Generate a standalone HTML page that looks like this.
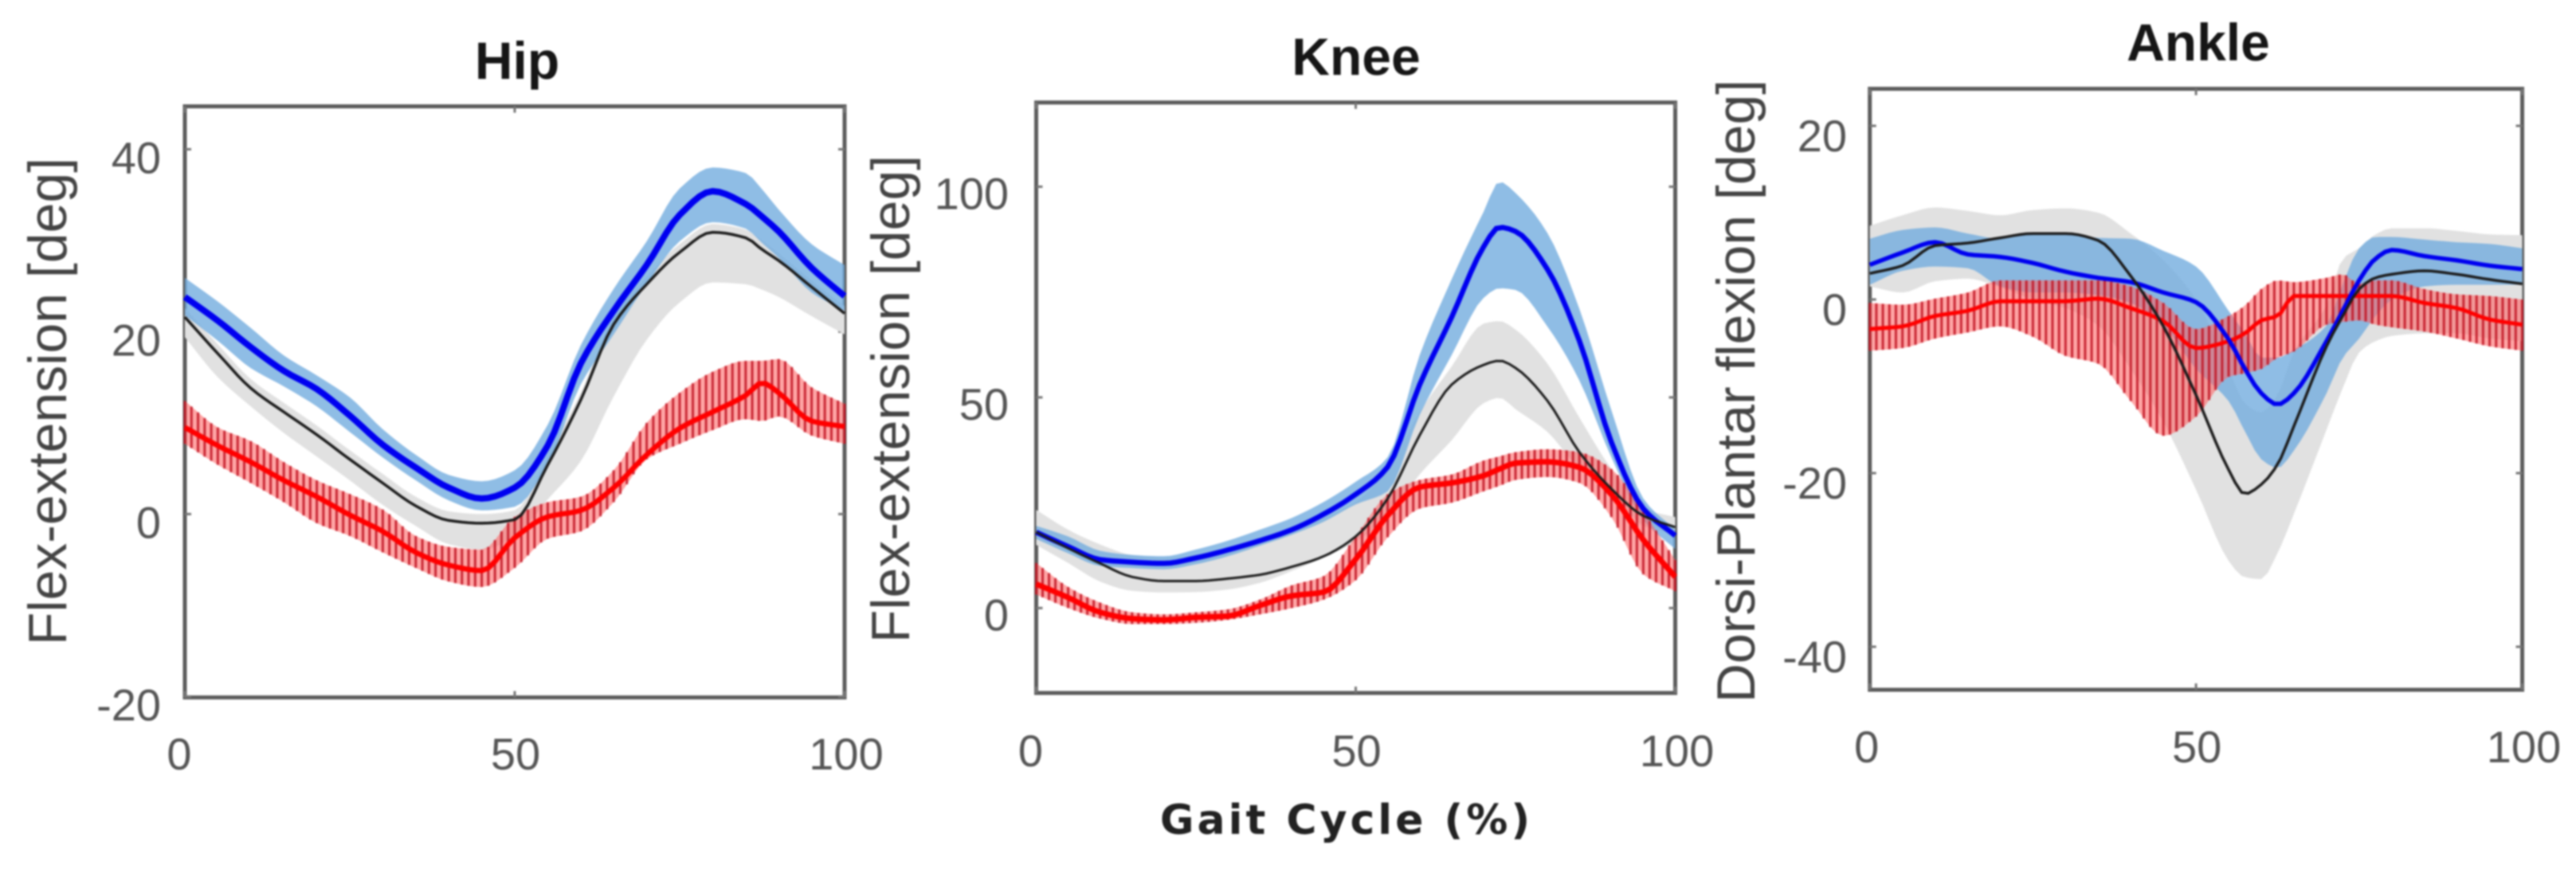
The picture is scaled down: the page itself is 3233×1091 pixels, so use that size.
<!DOCTYPE html>
<html lang="en">
<head>
<meta charset="utf-8">
<title>Hip, Knee and Ankle gait kinematics</title>
<style>
  html, body { margin: 0; padding: 0; background: #fff; }
  body { width: 3233px; height: 1091px; overflow: hidden; }
  svg { display: block; filter: blur(1.1px); }
  text { font-family: "Liberation Sans", Arial, sans-serif; }
  .tick-label { font-size: 56px; fill: #555; }
  .axis-title { font-size: 68px; fill: #444; }
  .chart-title { font-size: 66px; font-weight: bold; fill: #161616; }
  .x-title { font-family: "DejaVu Sans", sans-serif; font-size: 52px; font-weight: bold; fill: #222; letter-spacing: 4px; }
</style>
</head>
<body>
<svg id="figure" xmlns="http://www.w3.org/2000/svg" width="3233" height="1091" viewBox="0 0 3233 1091">
  <rect width="3233" height="1091" fill="#fff"/>
  <g id="panel-hip"></g>
  <g id="panel-knee"></g>
  <g id="panel-ankle"></g>
  <text class="chart-title" x="649" y="99" text-anchor="middle">Hip</text>
  <text class="chart-title" x="1702" y="94" text-anchor="middle">Knee</text>
  <text class="chart-title" x="2759" y="76" text-anchor="middle">Ankle</text>
  <text class="axis-title" transform="translate(83,504) rotate(-90)" text-anchor="middle">Flex-extension [deg]</text>
  <text class="axis-title" transform="translate(1141,501) rotate(-90)" text-anchor="middle">Flex-extension [deg]</text>
  <text class="axis-title" transform="translate(2202,491) rotate(-90)" text-anchor="middle">Dorsi-Plantar flexion [deg]</text>
  <text class="x-title" x="1690" y="1047" text-anchor="middle">Gait Cycle (%)</text>
</svg>
<script>
// ---------- shared ticks ----------
const xTickValues = [0, 50, 100];

// ---------- Hip ----------
const hipPct = [0,5,10,15,20,25,30,35,40,45,50,55,60,65,70,75,80,85,87.5,90,95,100];
const hipYTicks = [40,20,0,-20];
const hipBlueMean = [23.8,21.2,18.3,15.7,13.7,10.8,7.6,5.1,2.9,1.7,2.9,7.5,16.5,22.3,27.3,32.8,35.4,34,32.6,31,27,23.9];
const hipBlueUpper = [25.9,23.3,20.4,17.4,15.2,12.8,9.3,6.5,4.3,3.6,4.8,9.8,18.5,24.7,29.9,35.7,38,37.4,35.6,33.4,29.6,27.3];
const hipBlueLower = [21.8,19,16,14,11.8,9,6.2,3.7,1.5,0.4,0.8,5.4,14.2,19.7,25.2,29.9,32,31.3,29.7,28.1,24.3,22.3];
const hipBlackMean = [21.6,17.6,13.8,11.2,8.7,6,3.4,0.9,-0.7,-1,-0.6,5.4,12.5,20.8,25.2,28.7,30.9,30.3,29,27.8,24.9,22];
const hipGrayUpper = [22.6,18.6,14.8,12.2,9.7,7,4.4,1.9,0.3,0,0.4,6.4,13.3,21.6,26,29.6,31.8,31.2,30,28.6,25.6,22.8];
const hipGrayLower = [19.4,15,11.8,8.9,6.3,3.7,1,-1.3,-3.3,-3.9,-2.5,1.6,5.8,12.9,19.1,23.2,25.4,25.2,24.6,23.8,21.7,19.7];
const hipRedMean = [9.5,7.5,5.7,3.7,1.9,-0.1,-1.9,-4.2,-5.6,-6.2,-2.6,-0.3,0.4,2.9,6.5,9.4,11.2,13,14.4,13.3,10.2,9.6];
const hipRedUpper = [12.4,9.5,8,5.7,3.7,2.2,0.5,-2.4,-3.6,-3.9,-0.3,1.3,1.9,4.8,10,13.3,15.6,16.8,16.8,17,13.9,12.1];
const hipRedLower = [7.7,5.4,3.4,1.3,-1,-2.4,-4.2,-5.9,-7.4,-8,-5.9,-2.7,-1.9,1.3,6,7.7,9.2,10.4,10.2,10.7,8.6,7.7];

// ---------- Knee ----------
const kneePct = [0,5,10,15,20,25,30,35,40,45,50,55,60,65,70,72.5,75,80,85,90,95,100];
const kneeYTicks = [100,50,0];
const kneeBlueMean = [18,14.6,11.5,10.9,10.6,11.9,13.8,16,18.6,22.3,27,33.5,53,69,85.7,90.4,89.4,80.4,63.4,39.4,23.6,17.2];
const kneeBlueUpper = [19.5,17,13.6,12.6,12.3,13.9,16,18.6,21.4,25.2,30,35.8,60,78,94,101.2,98.5,89,71,47,26,18.6];
const kneeBlueLower = [16.4,13,10,9.5,9.2,10.4,12.3,14.8,17.4,20.5,24.6,27.7,45.8,60,73.6,75.9,75.5,66.8,54,35.8,20.9,14];
const kneeBlackMean = [18,14.2,10.6,7.4,6.4,6.4,7,7.9,9.8,12.3,17,26,41,53,57.7,58.7,57,49.2,37,28.3,21.9,19.2];
const kneeGrayUpper = [23.3,18.6,15.1,12.6,12,12.6,13.9,15.8,18.3,21.5,25.2,33,46.5,57.3,67.5,68.1,66.1,58,45.2,33,23.6,21.6];
const kneeGrayLower = [15,10.7,6.3,4.1,3.7,3.8,4.4,6,8.8,12,15.8,21.6,31.7,39.8,48.6,49.9,47.2,41.8,33,27.6,19.5,17.5];
const kneeRedMean = [5.7,2.5,-1,-2.5,-2.8,-2.2,-1.9,0.6,2.9,3.8,11.6,22,28.7,29.7,31.4,33,34.4,34.7,33.4,27,16.2,7.4];
const kneeRedUpper = [10.7,5,1.3,-1,-1.5,-1,-0.3,2,5.4,7.6,17,27,30.4,31.7,35,36,37,37.7,37,33,22.9,11.4];
const kneeRedLower = [3.2,0,-2.5,-3.8,-3.8,-3.5,-2.8,-1.5,0,2,6.6,16.8,23.6,25,27.7,29,30.4,31.1,29.7,21.6,8,4];

// ---------- Ankle ----------
const anklePct = [0,5,10,15,20,25,30,35,40,45,50,55,57.5,60,62.5,65,70,72.5,75,77.5,80,85,90,95,100];
const ankleYTicks = [20,0,-20,-40];
const ankleBlueMean = [4,5.4,6.6,5.2,4.9,4.2,3.2,2.5,2,0.8,-0.3,-4.6,-8,-10.8,-12.1,-10.8,-4.8,-1.3,2.2,4.7,5.7,5,4.5,3.9,3.5];
const ankleBlueUpper = [7,8,8.3,7.6,7,7.6,7.6,7.1,7,5.6,3.8,-1.3,-3.9,-6.7,-6.7,-5.8,-3,1.8,5.9,7.2,7.2,6.9,6.6,6.4,5.9];
const ankleBlueLower = [1.7,3.3,3.8,3.6,1.5,0.8,0.8,0.5,-0.4,-3,-8,-11.7,-15.2,-18.4,-19.4,-17.4,-10.8,-6.7,-4.5,-1.9,0,1.5,1.7,1.7,1.7];
const ankleBlackMean = [3,3.9,6.2,6.5,7.1,7.6,7.6,6.8,2.7,-3.1,-11,-19.6,-22.4,-21.3,-19,-14.6,-5.4,-1.9,1.2,2.5,2.9,3.3,2.9,2.3,1.8];
const ankleGrayUpper = [8.5,9.7,10.6,10.2,9.7,10.3,10.5,10,7.6,4.5,0,-8,-12,-13,-11,-6,-0.7,4.7,5.9,7.5,8.2,8.2,7.9,7.5,7.4];
const ankleGrayLower = [1.5,0.8,2.1,2.4,1.4,0,-1,-3,-8,-14.1,-21.9,-30.1,-32,-32.2,-29.2,-24.7,-15,-10.2,-6.1,-4.8,-4.2,-3.9,-3.9,-4.5,-4.8];
const ankleRedMean = [-3.4,-3.1,-1.9,-1.3,-0.2,-0.2,-0.2,0.1,-1,-2.5,-5.6,-4.8,-3.9,-2.4,-1.9,0.4,0.4,0.4,0.4,0.4,0.4,-0.4,-1,-2.3,-2.9];
const ankleRedUpper = [-0.4,-0.6,0.1,0.8,2.2,2.2,2.2,2.2,1.5,-0.4,-3.4,-1.9,-0.7,1.2,2.2,2,2.5,2.9,1.8,2.2,2.2,1.2,0.6,0.4,0];
const ankleRedLower = [-5.9,-5.6,-4.5,-3.8,-3.1,-4.3,-6.5,-7.4,-11.7,-15.7,-13.5,-8.9,-8.5,-8,-6.7,-6,-2.9,-2.6,-2.4,-2.9,-3.2,-3.7,-4.5,-5.4,-5.9];

const SVGNS = 'http://www.w3.org/2000/svg';

function makeCurve(xs, ys) {
  // monotone cubic Hermite through the read values
  const n = xs.length, d = [], m = new Array(n);
  for (let i = 0; i < n - 1; i++) d.push((ys[i + 1] - ys[i]) / (xs[i + 1] - xs[i]));
  m[0] = d[0]; m[n - 1] = d[n - 2];
  for (let i = 1; i < n - 1; i++) {
    m[i] = d[i - 1] * d[i] <= 0 ? 0 : 2 * d[i - 1] * d[i] / (d[i - 1] + d[i]);
  }
  return function (t) {
    let i = 0;
    while (i < n - 2 && t > xs[i + 1]) i++;
    const h = xs[i + 1] - xs[i], s = (t - xs[i]) / h;
    const s2 = s * s, s3 = s2 * s;
    return (2 * s3 - 3 * s2 + 1) * ys[i] + (s3 - 2 * s2 + s) * h * m[i] +
           (-2 * s3 + 3 * s2) * ys[i + 1] + (s3 - s2) * h * m[i + 1];
  };
}

function drawPanel(p) {
  const root = document.getElementById(p.id);
  const xScale = v => p.left + (p.right - p.left) * v / 100;
  const yScale = v => p.zeroY - p.unit * v;
  const steps = [];
  for (let i = 0; i <= 100; i++) steps.push(i);

  function linePath(fn) {
    return steps.map((t, i) => (i ? 'L' : 'M') + xScale(t).toFixed(1) + ' ' + yScale(fn(t)).toFixed(1)).join('');
  }
  function bandPath(up, lo) {
    const a = steps.map((t, i) => (i ? 'L' : 'M') + xScale(t).toFixed(1) + ' ' + yScale(up(t)).toFixed(1)).join('');
    const b = steps.slice().reverse().map(t => 'L' + xScale(t).toFixed(1) + ' ' + yScale(lo(t)).toFixed(1)).join('');
    return a + b + 'Z';
  }

  // axes box
  const box = document.createElementNS(SVGNS, 'rect');
  
  
  box.setAttribute('x', p.left);
  box.setAttribute('y', p.top);
  box.setAttribute('width', p.right - p.left);
  box.setAttribute('height', p.bottom - p.top);
  box.setAttribute('fill', '#fff');
  box.setAttribute('stroke', '#5c5c5c');
  box.setAttribute('stroke-width', '5');
  root.appendChild(box);

  // x ticks and labels
  xTickValues.forEach(v => {
    const x = xScale(v);
    [[p.bottom, p.bottom - 8], [p.top, p.top + 8]].forEach(pair => {
      const tk = document.createElementNS(SVGNS, 'line');
      
      
      tk.setAttribute('x1', x); tk.setAttribute('x2', x);
      tk.setAttribute('y1', pair[0]); tk.setAttribute('y2', pair[1]);
      tk.setAttribute('stroke', '#777'); tk.setAttribute('stroke-width', '3');
      root.appendChild(tk);
    });
    const lb = document.createElementNS(SVGNS, 'text');
    
    
    lb.setAttribute('class', 'tick-label');
    lb.setAttribute('x', x + (v === 0 ? p.zeroLabelShift : (v === 100 ? 2 : 1)));
    lb.setAttribute('y', p.xLabelY);
    lb.setAttribute('text-anchor', 'middle');
    lb.textContent = String(v);
    root.appendChild(lb);
  });

  // y ticks and labels
  p.yTicks.forEach(v => {
    const y = yScale(v);
    [[p.left, p.left + 8], [p.right, p.right - 8]].forEach(pair => {
      const tk = document.createElementNS(SVGNS, 'line');
      
      
      tk.setAttribute('x1', pair[0]); tk.setAttribute('x2', pair[1]);
      tk.setAttribute('y1', y); tk.setAttribute('y2', y);
      tk.setAttribute('stroke', '#777'); tk.setAttribute('stroke-width', '3');
      root.appendChild(tk);
    });
    const lb = document.createElementNS(SVGNS, 'text');
    
    
    lb.setAttribute('class', 'tick-label');
    lb.setAttribute('x', p.yLabelRight);
    lb.setAttribute('y', y + p.yLabelShift);
    lb.setAttribute('text-anchor', 'end');
    lb.textContent = String(v);
    root.appendChild(lb);
  });

  const c = a => makeCurve(p.pct, a);
  const grayUp = c(p.grayUpper), grayLo = c(p.grayLower);
  const blueUp = c(p.blueUpper), blueLo = c(p.blueLower);
  const redUp = c(p.redUpper), redLo = c(p.redLower);

  const grayBand = document.createElementNS(SVGNS, 'path');
  
  
  grayBand.setAttribute('d', bandPath(grayUp, grayLo));
  grayBand.setAttribute('fill', '#e1e1e1');
  root.appendChild(grayBand);

  const blueBand = document.createElementNS(SVGNS, 'path');
  
  
  blueBand.setAttribute('d', bandPath(blueUp, blueLo));
  blueBand.setAttribute('fill', 'rgb(112,170,222)');
  blueBand.setAttribute('fill-opacity', '0.78');
  root.appendChild(blueBand);

  const redBand = document.createElementNS(SVGNS, 'path');
  
  
  redBand.setAttribute('d', bandPath(redUp, redLo));
  redBand.setAttribute('fill', 'rgb(255,100,100)');
  redBand.setAttribute('fill-opacity', '0.58');
  root.appendChild(redBand);

  steps.forEach(t => {
    const bar = document.createElementNS(SVGNS, 'line');
    
    
    bar.setAttribute('x1', xScale(t)); bar.setAttribute('x2', xScale(t));
    bar.setAttribute('y1', yScale(redUp(t))); bar.setAttribute('y2', yScale(redLo(t)));
    bar.setAttribute('stroke', '#c01020');
    bar.setAttribute('stroke-opacity', '0.85');
    bar.setAttribute('stroke-width', '3');
    root.appendChild(bar);
  });

  const redLine = document.createElementNS(SVGNS, 'path');
  
  
  redLine.setAttribute('d', linePath(c(p.redMean)));
  redLine.setAttribute('fill', 'none');
  redLine.setAttribute('stroke', '#ff0000');
  redLine.setAttribute('stroke-width', p.redW);
  root.appendChild(redLine);

  const blueLine = document.createElementNS(SVGNS, 'path');
  
  
  blueLine.setAttribute('d', linePath(c(p.blueMean)));
  blueLine.setAttribute('fill', 'none');
  blueLine.setAttribute('stroke', '#0000f0');
  blueLine.setAttribute('stroke-width', p.blueW);
  root.appendChild(blueLine);

  const blackLine = document.createElementNS(SVGNS, 'path');
  
  
  blackLine.setAttribute('d', linePath(c(p.blackMean)));
  blackLine.setAttribute('fill', 'none');
  blackLine.setAttribute('stroke', '#1c1c1c');
  blackLine.setAttribute('stroke-width', p.blackW);
  root.appendChild(blackLine);
}

drawPanel({
  id: 'panel-hip', key: 'hip',
  left: 232, right: 1060, top: 133.5, bottom: 875.6, zeroY: 645.4, unit: 11.45,
  xLabelY: 966, yLabelRight: 202, yLabelShift: 30, zeroLabelShift: -7,
  redW: 6.5, blueW: 8, blackW: 3.5,
  pct: hipPct, yTicks: hipYTicks,
  blueMean: hipBlueMean, blueUpper: hipBlueUpper, blueLower: hipBlueLower,
  blackMean: hipBlackMean, grayUpper: hipGrayUpper, grayLower: hipGrayLower,
  redMean: hipRedMean, redUpper: hipRedUpper, redLower: hipRedLower
});
drawPanel({
  id: 'panel-knee', key: 'knee',
  left: 1300.5, right: 2102.5, top: 128.7, bottom: 870, zeroY: 763.4, unit: 5.29,
  xLabelY: 962, yLabelRight: 1266, yLabelShift: 28, zeroLabelShift: -7,
  redW: 7, blueW: 6.5, blackW: 3,
  pct: kneePct, yTicks: kneeYTicks,
  blueMean: kneeBlueMean, blueUpper: kneeBlueUpper, blueLower: kneeBlueLower,
  blackMean: kneeBlackMean, grayUpper: kneeGrayUpper, grayLower: kneeGrayLower,
  redMean: kneeRedMean, redUpper: kneeRedUpper, redLower: kneeRedLower
});
drawPanel({
  id: 'panel-ankle', key: 'ankle',
  left: 2346.7, right: 3165.5, top: 111.5, bottom: 866, zeroY: 376, unit: 10.9,
  xLabelY: 957, yLabelRight: 2318, yLabelShift: 32, zeroLabelShift: -4,
  redW: 5, blueW: 5.5, blackW: 3.5,
  pct: anklePct, yTicks: ankleYTicks,
  blueMean: ankleBlueMean, blueUpper: ankleBlueUpper, blueLower: ankleBlueLower,
  blackMean: ankleBlackMean, grayUpper: ankleGrayUpper, grayLower: ankleGrayLower,
  redMean: ankleRedMean, redUpper: ankleRedUpper, redLower: ankleRedLower
});
</script>
</body>
</html>
